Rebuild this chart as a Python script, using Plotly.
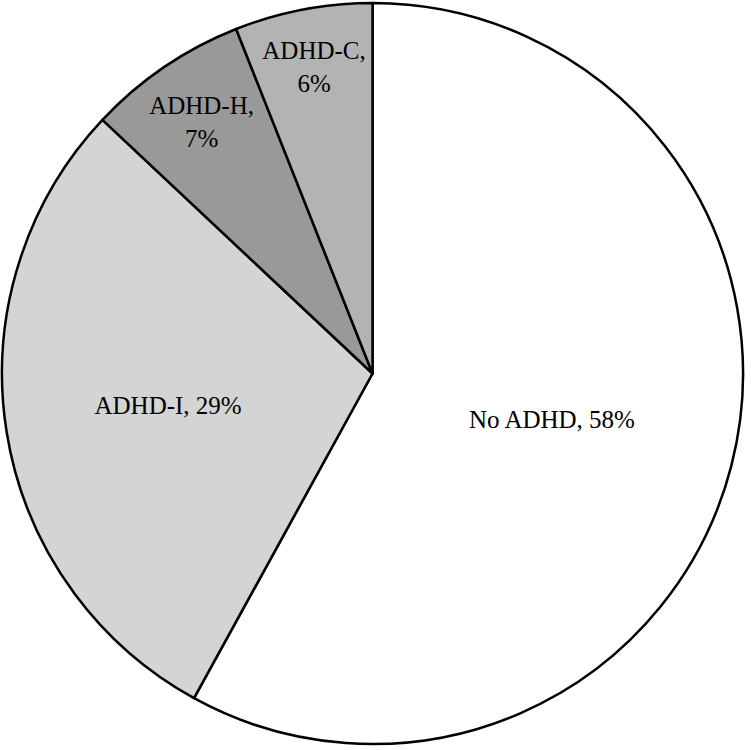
import plotly.graph_objects as go

# categories and shares (%), clockwise from 12 o'clock
labels = ["No ADHD", "ADHD-I", "ADHD-H", "ADHD-C"]
values = [58, 29, 7, 6]
slice_text = ["No ADHD, 58%", "ADHD-I, 29%", "ADHD-H,<br>7%", "ADHD-C,<br>6%"]
colors = ["#ffffff", "#d4d4d4", "#999999", "#b3b3b3"]

fig = go.Figure()
fig.add_trace(go.Pie(
    labels=labels,
    values=values,
    text=slice_text,
    textinfo="text",
    textposition="inside",
    insidetextorientation="horizontal",
    sort=False,
    direction="clockwise",
    rotation=0,
    marker=dict(colors=colors, line=dict(color="black", width=2.5)),
    textfont=dict(family="Liberation Serif", size=25, color="black"),
    showlegend=False,
    hoverinfo="label+percent",
    domain=dict(x=[0, 0.992], y=[0.004, 1]),
))

fig.update_layout(
    width=751,
    height=750,
    margin=dict(l=2, r=2, t=2, b=2),
    paper_bgcolor="white",
    plot_bgcolor="white",
    uniformtext=dict(minsize=25, mode="show"),
)

# page body has a default 8px margin; drop it so the figure sits at 0,0
fig.write_html("out.html",
               config={"displayModeBar": False},
               post_script="document.body.style.margin='0';")
